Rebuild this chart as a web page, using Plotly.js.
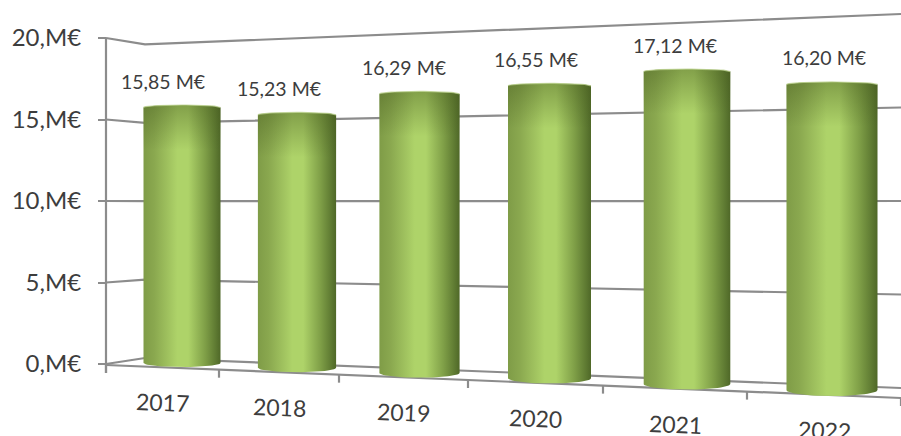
<!DOCTYPE html>
<html>
<head>
<meta charset="utf-8">
<script src="https://cdn.plot.ly/plotly-3.0.1.min.js"></script>
<style>html,body{margin:0;padding:0;background:#fff;overflow:hidden}#chart{width:901px;height:436px}</style>
</head>
<body>
<div id="chart"></div>
<script>
// Revenue per year, in millions of euros
const years = ['2017', '2018', '2019', '2020', '2021', '2022'];
const revenue = [15.85, 15.23, 16.29, 16.55, 17.12, 16.20];
const axisValues = [0, 5, 10, 15, 20];
const axisLabels = ['0,M€', '5,M€', '10,M€', '15,M€', '20,M€'];
const categoryEdges = [106, 219, 339, 468, 603, 747, 901];

// The axis carries 16.3 px per M€ with zero 364 px down the plot.
const PX_PER_UNIT = 16.3, ZERO_PX = 364, W = 901, H = 436;
const down = px => -px / PX_PER_UNIT;
const level = py => (ZERO_PX - py) / PX_PER_UNIT;

// Oblique view: depth grows to the right, so columns get wider, taller and lower.
const barCentre = i => 182 + 111.25 * i + 3.75 * i * i;
const barWidth = i => 77 + 0.8 * i + 0.4 * i * i;
const footLevel = x => level(363 + 0.0416 * (x - 182));
const gain = x => (16.12 + 0.00422 * (x - 182)) / PX_PER_UNIT;
const frontFloor = x => level(365 + 0.0415 * (x - 106));
const backWall = (v, x) => {
  const t = (x - 145) / (901 - 145);
  return level((358 + 30 * t) - v * (15.68 + 3.02 * t));
};

const GRID = '#8c8c8c', INK = '#3d3d3d';
const mid = i => (categoryEdges[i] + categoryEdges[i + 1]) / 2;
const arc = (cx, cy, rx, ry, from, to, n = 28) => {
  const xs = [], ys = [];
  for (let k = 0; k <= n; k++) {
    const a = from + (to - from) * k / n;
    xs.push(cx + rx * Math.cos(a));
    ys.push(cy + ry * Math.sin(a));
  }
  return [xs, ys];
};
const line = (x, y, w = 2.2) => ({
  type: 'scatter', mode: 'lines', x, y, hoverinfo: 'skip', showlegend: false,
  line: {color: GRID, width: w}
});

const traces = [];

// Back and side walls with the gridlines on them
axisValues.forEach(v => {
  traces.push(line([106, 145, 901], [v, backWall(v, 145), backWall(v, 901)]));
});
traces.push(line([106, 106], [20, level(373)]));
traces.push(line([106, 901], [frontFloor(106), frontFloor(901)]));

// Category tick marks hanging from the front edge of the floor
const tickX = [], tickY = [];
categoryEdges.forEach(x => {
  tickX.push(x, x, null);
  tickY.push(frontFloor(x), frontFloor(x) + down(8), null);
});
traces.push(line(tickX, tickY));

// Cylinders
const annotations = [];
revenue.forEach((value, i) => {
  const cx = barCentre(i), rx = barWidth(i) / 2;
  const foot = footLevel(cx);
  const top = foot + value * gain(cx);
  const ryTop = 2.5 / PX_PER_UNIT, ryFoot = (4 + 0.4 * i) / PX_PER_UNIT;

  const [ux, uy] = arc(cx, top, rx, ryTop, Math.PI, 0);
  const [lx, ly] = arc(cx, foot, rx, -ryFoot, 0, Math.PI);
  traces.push({
    type: 'scatter', mode: 'lines', x: ux.concat(lx), y: uy.concat(ly),
    fill: 'toself', hoverinfo: 'skip', showlegend: false, line: {width: 0},
    fillgradient: {
      type: 'horizontal',
      colorscale: [[0, '#7f9c47'], [0.14, '#8aa84f'], [0.44, '#aed369'], [0.58, '#aed369'],
                   [0.8, '#7f9f47'], [0.93, '#607c33'], [1, '#4f6828']]
    }
  });

  // Darker shoulder under the rim
  const shoulder = top - 2.6;
  const [sx, sy] = arc(cx, shoulder, rx, 0, 0, Math.PI, 1);
  traces.push({
    type: 'scatter', mode: 'lines', x: ux.concat(sx), y: uy.concat(sy),
    fill: 'toself', hoverinfo: 'skip', showlegend: false, line: {width: 0},
    fillgradient: {
      type: 'vertical',
      colorscale: [[0, 'rgba(70,90,30,0)'], [1, 'rgba(70,90,30,0.42)']]
    }
  });
  traces.push({
    type: 'scatter', mode: 'lines', x: ux, y: uy, hoverinfo: 'skip', showlegend: false,
    line: {color: 'rgba(186,208,140,0.75)', width: 1.2}
  });

  annotations.push({
    xref: 'x', yref: 'y', x: mid(i), y: top + ryTop + 24 / PX_PER_UNIT,
    text: value.toFixed(2).replace('.', ',') + ' M€', showarrow: false,
    font: {family: 'Lato, sans-serif', size: 19.5, color: INK}
  });
  annotations.push({
    xref: 'x', yref: 'y', x: mid(i), y: frontFloor(mid(i)) + down(35),
    text: years[i], showarrow: false, textangle: 2.4,
    font: {family: 'Lato, sans-serif', size: 23, color: INK}
  });
});

Plotly.newPlot('chart', traces, {
  width: W, height: H,
  margin: {l: 0, r: 0, t: 0, b: 0},
  paper_bgcolor: '#fff', plot_bgcolor: '#fff',
  showlegend: false, hovermode: false,
  annotations,
  xaxis: {range: [0, W], domain: [0, 1], visible: false, fixedrange: true},
  yaxis: {
    range: [level(H), level(0)], domain: [0, 1],
    anchor: 'free', position: 106 / W, side: 'left',
    tickmode: 'array', tickvals: axisValues, ticktext: axisLabels,
    ticks: 'outside', ticklen: 8, tickwidth: 2, tickcolor: GRID,
    ticklabelstandoff: 12,
    showgrid: false, zeroline: false, showline: false, fixedrange: true,
    tickfont: {family: 'Lato, sans-serif', size: 24, color: INK}
  }
}, {displayModeBar: false, staticPlot: true});
</script>
</body>
</html>
